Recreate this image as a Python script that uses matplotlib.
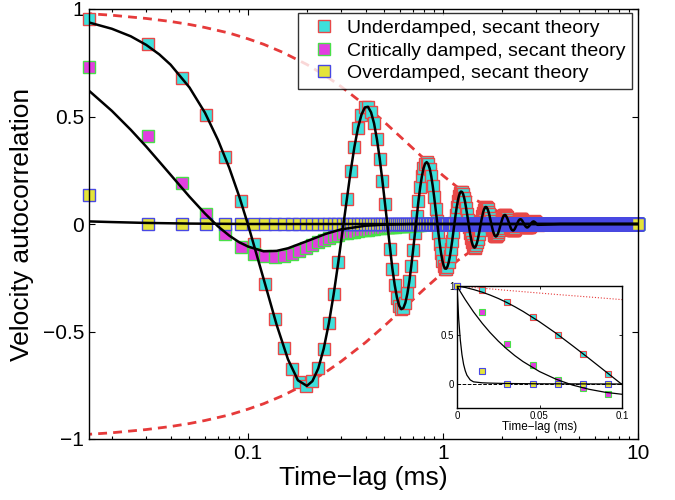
import numpy as np
import matplotlib as mpl
mpl.use('agg')
import matplotlib.pyplot as plt
from matplotlib.ticker import FixedLocator, NullFormatter

plt.rcParams['font.family'] = ['Liberation Sans', 'DejaVu Sans']

# sampling interval (ms) and number of samples up to 10 ms
dt = 1 / 65.536
n_samples = 656

# measured velocity autocorrelation, one value per sample (k = 0, 1, 2, ...)
under_vals = [
    1.0, 0.955, 0.838, 0.681, 0.505, 0.310, 0.107, -0.093, -0.279, -0.443,
    -0.578, -0.676, -0.735, -0.754, -0.731, -0.672, -0.580, -0.462, -0.326, -0.179,
    -0.030, 0.114, 0.246, 0.359, 0.448, 0.509, 0.542, 0.545, 0.519, 0.468,
    0.394, 0.304, 0.202, 0.094, -0.014, -0.116, -0.207, -0.283, -0.342, -0.380,
    -0.396, -0.391, -0.366, -0.323, -0.266, -0.197, -0.121, -0.042, 0.035, 0.107,
    0.170, 0.221, 0.259, 0.281, 0.288, 0.279, 0.257, 0.222, 0.177, 0.125,
    0.069, 0.012, -0.043, -0.093, -0.136, -0.170, -0.194, -0.207, -0.208, -0.198,
    -0.179, -0.151, -0.116, -0.078, -0.036, 0.005, 0.044, 0.079, 0.108, 0.130,
    0.145, 0.151, 0.149, 0.140, 0.123, 0.102, 0.075, 0.047, 0.017, -0.013,
    -0.040, -0.064, -0.084, -0.098, -0.107, -0.110, -0.107, -0.098, -0.085, -0.068,
    -0.048, -0.027, -0.005, 0.016, 0.035, 0.052, 0.065, 0.074, 0.079, 0.079,
    0.076, 0.068, 0.058, 0.045, 0.030, 0.014, -0.002, -0.016, -0.030, -0.041,
    -0.050, -0.055, -0.058, -0.057, -0.053, -0.047, -0.039, -0.029, -0.018, -0.006,
    0.005, 0.015, 0.024, 0.032, 0.038, 0.041, 0.042, 0.041, 0.037, 0.032,
    0.026, 0.018, 0.010, 0.002, -0.006, -0.013, -0.020, -0.025, -0.028, -0.030,
    -0.030, -0.029, -0.026, -0.022, -0.017, -0.011, -0.005, 0.001, 0.006, 0.011,
    0.016, 0.019, 0.021, 0.022, 0.022, 0.021, 0.018, 0.015, 0.011, 0.007,
    0.003, -0.002, -0.006, -0.009, -0.012, -0.014, -0.016, -0.016, -0.016, -0.014,
    -0.012, -0.010, -0.007, -0.004, -0.001, 0.002, 0.005, 0.007, 0.009, 0.011,
    0.011, 0.012, 0.011, 0.010, 0.008, 0.007, 0.004, 0.002, 0.000, -0.002,
    -0.004,
]
crit_vals = [
    1.0, 0.73, 0.41, 0.19, 0.045, -0.045, -0.105, -0.138, -0.15, -0.152,
    -0.147, -0.138, -0.126, -0.112, -0.098, -0.085, -0.074, -0.065, -0.057, -0.05,
    -0.044, -0.041, -0.038, -0.035, -0.033, -0.03, -0.028, -0.026, -0.024, -0.022,
    -0.02, -0.019, -0.017, -0.016, -0.015, -0.014, -0.013, -0.012, -0.011, -0.01,
    -0.009, -0.008, -0.008, -0.007, -0.006, -0.005, -0.005, -0.004, -0.004, -0.003,
    -0.003, -0.002, -0.002, -0.002, -0.001, -0.001, 0.0,
]
over_vals = [1.0, 0.135, 0.0]

# theory curves
under_theory_t = [0, 0.005, 0.01, 0.0153, 0.02, 0.025, 0.03, 0.035, 0.04, 0.05,
                  0.06, 0.07, 0.08, 0.09, 0.1, 0.12, 0.14, 0.16, 0.18, 0.2]
under_theory = [1.0, 0.985, 0.964, 0.937, 0.908, 0.873, 0.833, 0.789, 0.741, 0.635,
                0.518, 0.391, 0.261, 0.128, -0.005, -0.255, -0.469, -0.629, -0.727, -0.753]
crit_theory_t = [0, 0.002, 0.005, 0.01, 0.0153, 0.02, 0.025, 0.03, 0.035, 0.04,
                 0.05, 0.06, 0.07, 0.08, 0.09, 0.1, 0.12, 0.14, 0.16, 0.2,
                 0.25, 0.3, 0.4, 0.5, 0.7, 1.0, 10.0]
crit_theory = [1.0, 0.943, 0.861, 0.736, 0.619, 0.526, 0.438, 0.360, 0.290, 0.229,
               0.127, 0.049, -0.011, -0.054, -0.085, -0.105, -0.127, -0.125, -0.113, -0.080,
               -0.046, -0.025, -0.008, -0.003, 0.0, 0.0, 0.0]
over_theory_t = [0, 0.001, 0.002, 0.003, 0.004, 0.005, 0.006, 0.008, 0.01, 0.0153,
                 0.02, 0.03, 0.05, 0.1, 10.0]
over_theory = [1.0, 0.67, 0.45, 0.30, 0.20, 0.135, 0.09, 0.042, 0.022, 0.012,
               0.009, 0.005, 0.002, 0.0, 0.0]
envelope_t = [0, 0.01, 0.0153, 0.02, 0.03, 0.04, 0.05, 0.06, 0.08, 0.1,
              0.12, 0.15, 0.2, 0.25, 0.3, 0.4, 0.5, 0.6, 0.7, 0.8,
              1.0, 1.2, 1.4, 1.7, 2.0, 2.5, 3.0, 4.0, 5.0, 7.0, 10.0]
envelope = [1.0, 0.985, 0.978, 0.971, 0.956, 0.942, 0.928, 0.914, 0.888, 0.861,
            0.836, 0.799, 0.742, 0.689, 0.639, 0.551, 0.474, 0.408, 0.352, 0.303,
            0.225, 0.167, 0.124, 0.079, 0.051, 0.024, 0.011, 0.003, 0.001, 0.0, 0.0]

labels = ['Underdamped, secant theory', 'Critically damped, secant theory',
          'Overdamped, secant theory']
face = ['#3ee0dc', '#e23ee0', '#e4e43a']
edge = ['#e84848', '#48e048', '#4848e4']

# build full series on the sample grid (readings are 0 past the listed samples)
t = dt * np.arange(n_samples)
under = np.array(under_vals)
crit = np.concatenate([crit_vals, np.zeros(n_samples - len(crit_vals))])
over = np.concatenate([over_vals, np.zeros(n_samples - len(over_vals))])
t_under = t[:len(under)]

ut = np.concatenate([under_theory_t, t_under[14:], [4.0, 10.0]])
uy = np.concatenate([under_theory, under[14:], [0.0, 0.0]])

fig = plt.figure(figsize=(6.75, 5), dpi=100)
ax = fig.add_axes([89 / 675, 61 / 500, 549 / 675, 430 / 500])

env_t = np.array(envelope_t)
env = np.array(envelope)
m = env_t > 0
ax.plot(env_t[m], env[m], color='#e63a3a', lw=2, ls=(0, (3.2, 2.2)), zorder=1)
ax.plot(env_t[m], -env[m], color='#e63a3a', lw=2, ls=(0, (3.2, 2.2)), zorder=1)

handles = []
for (tt, yy), fc, ec, lab in zip([(t_under[1:], under[1:]), (t[1:], crit[1:]), (t[1:], over[1:])],
                                 face, edge, labels):
    h, = ax.plot(tt, yy, 's', ms=8, mfc=fc, mec=ec, mew=1.0, clip_on=False,
                 zorder=2, label=lab)
    handles.append(h)

for tx, ty in [(ut, uy), (crit_theory_t, crit_theory), (over_theory_t, over_theory)]:
    tx = np.asarray(tx)
    ty = np.asarray(ty)
    ax.plot(tx[tx > 0], ty[tx > 0], color='k', lw=1.8, zorder=3)

ax.set_xscale('log')
ax.set_xlim(dt, 10)
ax.set_ylim(-1, 1)
ax.xaxis.set_major_locator(FixedLocator([0.1, 1, 10]))
ax.set_xticklabels(['0.1', '1', '10'])
minors = [m_ * 10.0 ** e for e in (-2, -1, 0) for m_ in range(2, 10)]
ax.xaxis.set_minor_locator(FixedLocator(minors))
ax.xaxis.set_minor_formatter(NullFormatter())
ax.set_yticks([-1, -0.5, 0, 0.5, 1])
ax.set_yticklabels(['\u22121', '\u22120.5', '0', '0.5', '1'])
ax.tick_params(which='both', direction='in', top=True, right=True, labelsize=15, width=0.8)
ax.tick_params(which='major', length=4.5)
ax.tick_params(which='minor', length=2.5)
for s in ax.spines.values():
    s.set_linewidth(1.0)
ax.set_xlabel('Time\u2212lag (ms)', fontsize=19, labelpad=2)
ax.set_ylabel('Velocity autocorrelation', fontsize=19, labelpad=6)

leg = ax.legend(handles=handles, loc='upper right', bbox_to_anchor=(0.989, 0.991),
                borderaxespad=0, fontsize=14, frameon=True, fancybox=False,
                handlelength=1.88, handletextpad=0.25, labelspacing=0.25,
                borderpad=0.35, numpoints=1)
leg.get_frame().set_edgecolor('k')
leg.get_frame().set_linewidth(1.0)

# inset: linear zoom on the first 0.1 ms
ins = fig.add_axes([457 / 675, 92 / 500, 165 / 675, 122 / 500])
ins.plot(env_t, env, color='#e63a3a', lw=0.8, ls=':', zorder=1)
ins.axhline(0, color='k', lw=0.7, ls='--', zorder=1)
for tx, ty in [(under_theory_t, under_theory), (crit_theory_t, crit_theory),
               (over_theory_t, over_theory)]:
    ins.plot(tx, ty, color='k', lw=0.9, zorder=3)
for yy, fc, ec in zip([under, crit, over], face, edge):
    ins.plot(t[:7], yy[:7], 's', ms=4.3, mfc=fc, mec=ec, mew=0.8, clip_on=False, zorder=2)
ins.set_xlim(0, 0.1)
ins.set_ylim(-0.245, 1)
ins.set_xticks([0, 0.05, 0.1])
ins.set_xticklabels(['0', '0.05', '0.1'])
ins.set_yticks([0, 0.5, 1])
ins.set_yticklabels(['0', '0.5', '1'])
ins.tick_params(direction='in', top=True, right=True, labelsize=7, length=2, width=0.6, pad=2)
ins.set_xlabel('Time\u2212lag (ms)', fontsize=8.5, labelpad=0)
for s in ins.spines.values():
    s.set_linewidth(1.0)

fig.savefig('out.png', dpi=100)
